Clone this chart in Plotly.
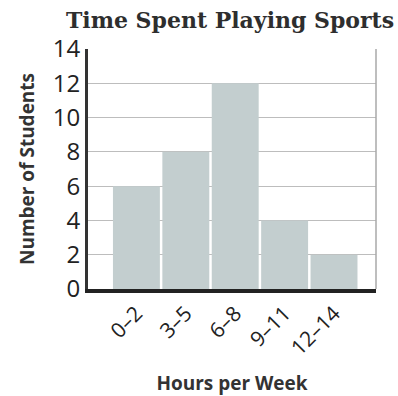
import plotly.graph_objects as go

categories = ["0–2", "3–5", "6–8", "9–11", "12–14"]
students = [6, 8, 12, 4, 2]
y_ticks = [0, 2, 4, 6, 8, 10, 12, 14]

fig = go.Figure(go.Bar(
    x=list(range(len(categories))),
    y=students,
    marker=dict(color="#c3cecf", line=dict(width=0)),
    width=0.95,
))

fig.update_layout(
    width=398, height=396,
    margin=dict(l=88, r=22, t=49, b=107, autoexpand=False),
    paper_bgcolor="white", plot_bgcolor="white",
    showlegend=False,
    title=dict(text="Time Spent Playing Sports", x=0.578, xanchor="center",
               y=0.95, yanchor="middle",
               font=dict(family="DejaVu Serif", size=22, color="#2e2e2e", weight="bold")),
    xaxis=dict(
        range=[-0.98, 4.85], automargin=False,
        tickmode="array", tickvals=list(range(len(categories))), ticktext=categories,
        tickangle=-45, ticks="", showgrid=False, zeroline=False,
        showline=True, linecolor="#222222", linewidth=4,
        tickfont=dict(family="Open Sans", size=21, color="#222222"),
        title=dict(text="Hours per Week", standoff=20,
                   font=dict(family="Open Sans", size=19, color="#333333", weight="bold")),
    ),
    yaxis=dict(
        range=[0, 14], tickmode="array", tickvals=y_ticks, automargin=False,
        ticks="", showgrid=True, gridcolor="#bdbdbd", gridwidth=1.2, zeroline=False,
        showline=True, linecolor="#333333", linewidth=3,
        tickfont=dict(family="Open Sans", size=24, color="#222222"),
        title=dict(text="Number of Students", standoff=14,
                   font=dict(family="Open Sans", size=19, color="#333333", weight="bold")),
    ),
    shapes=[dict(type="line", xref="paper", yref="paper", x0=1, x1=1, y0=0, y1=1,
                 line=dict(color="#a8a8a8", width=1.5))],
)

fig.write_html("out.html")
